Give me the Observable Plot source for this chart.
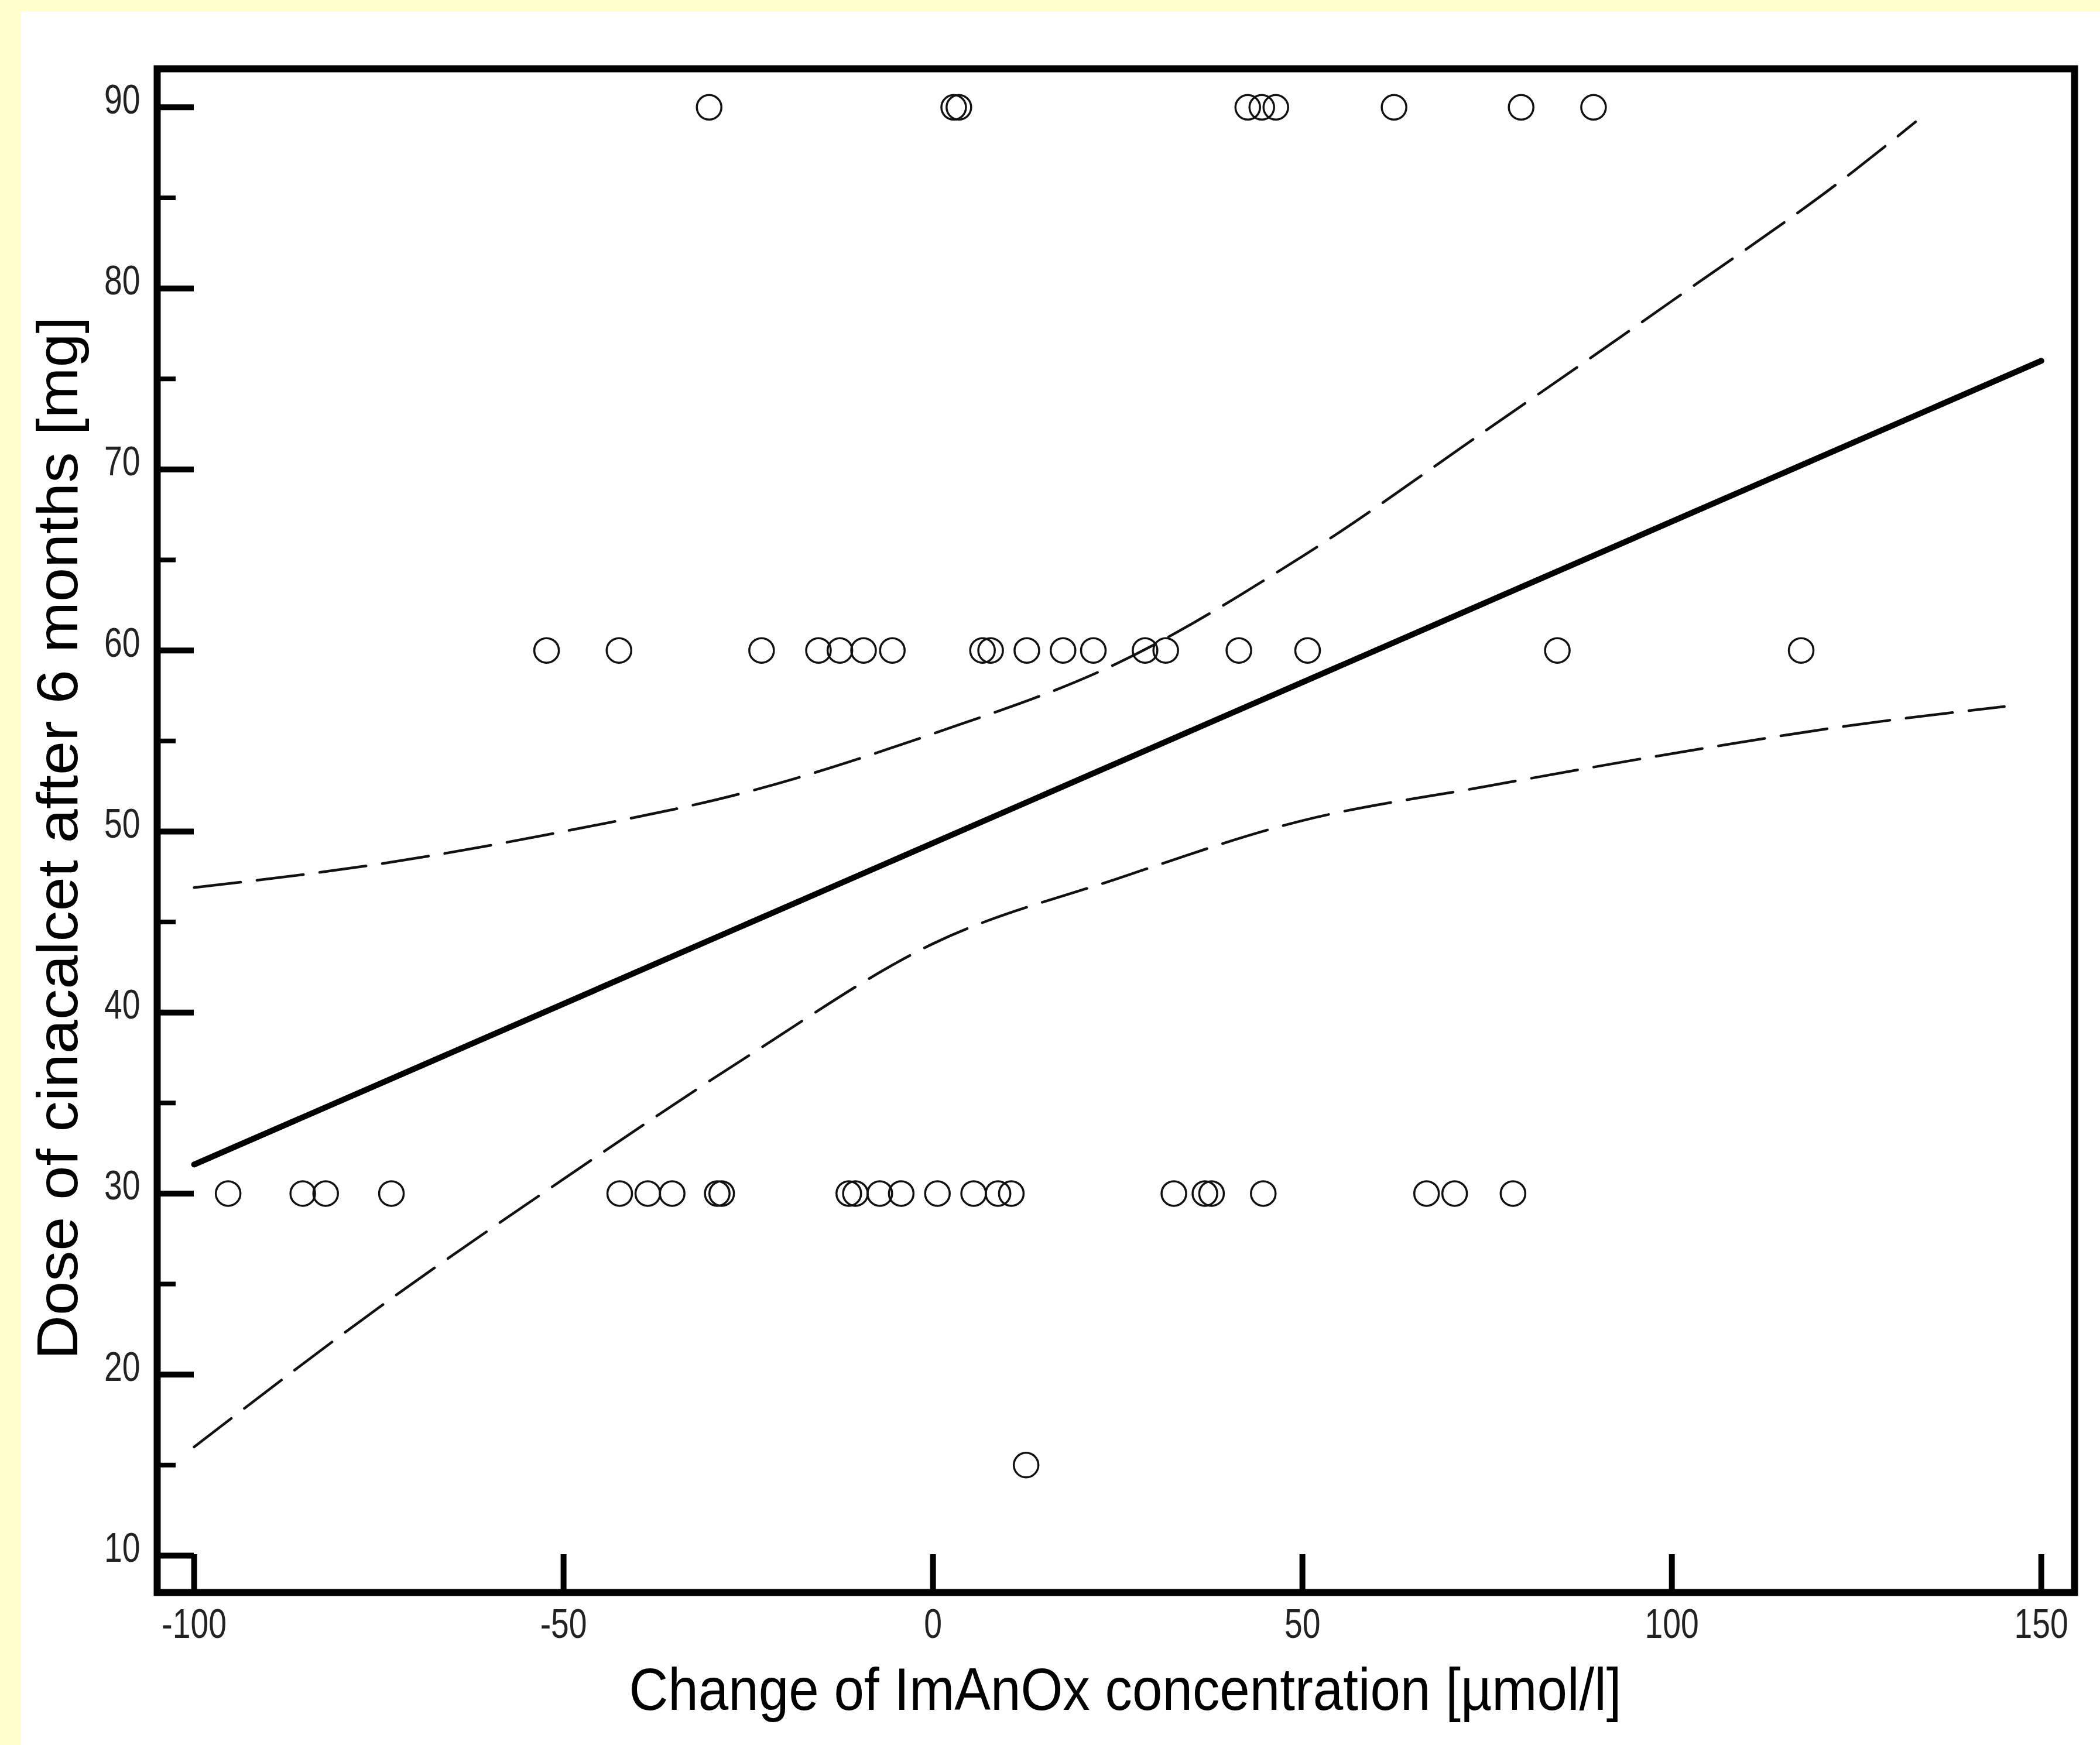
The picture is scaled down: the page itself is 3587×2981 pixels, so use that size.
<!DOCTYPE html>
<html>
<head>
<meta charset="utf-8">
<script src="https://cdn.jsdelivr.net/npm/d3@7"></script>
<script src="https://cdn.jsdelivr.net/npm/@observablehq/plot@0.6"></script>
<style>
html, body { margin: 0; padding: 0; background: #ffffcc; }
#panel { position: absolute; left: 36px; top: 20px; right: 0; bottom: 0; background: #ffffff; }
#chart { position: absolute; left: 0; top: 0; }
</style>
</head>
<body>
<div id="panel"></div>
<div id="chart"></div>
<script>
// ---- data ----
const xTicks = [-100, -50, 0, 50, 100, 150];
const yMajor = [10, 20, 30, 40, 50, 60, 70, 80, 90];
const yMinor = [15, 25, 35, 45, 55, 65, 75, 85];

const xTitle = "Change of ImAnOx concentration [\u00b5mol/l]";
const yTitle = "Dose of cinacalcet after 6 months [mg]";

// x values (change of ImAnOx) for each observed dose level
const dose90X = [-30.3, 2.8, 3.5, 42.6, 44.5, 46.4, 62.4, 79.6, 89.4];
const dose60X = [-52.3, -42.5, -23.2, -15.5, -12.6, -9.4, -5.5, 6.7, 7.8, 12.7, 17.6, 21.7, 28.7, 31.5, 41.4, 50.7, 84.5, 117.5];
const dose30X = [-95.4, -85.3, -82.2, -73.3, -42.4, -38.6, -35.3, -29.2, -28.6, -11.4, -10.5, -7.2, -4.3, 0.6, 5.5, 8.8, 10.6, 32.6, 36.8, 37.7, 44.7, 66.8, 70.6, 78.5];
const dose15X = [12.6];

// regression line end points
const regX = [-100, 150];
const regY = [31.6, 76.0];

// dashed confidence curves
const upperX = [-100, -75, -50, -25, 0, 25, 50, 75, 100, 125, 133];
const upperY = [46.9, 48.2, 50.0, 52.2, 55.4, 59.3, 65.2, 72.2, 79.3, 86.6, 89.2];
const lowerX = [-100, -75, -50, -25, 0, 25, 50, 75, 100, 125, 145];
const lowerY = [16.0, 23.7, 30.8, 37.6, 43.8, 47.4, 50.6, 52.5, 54.3, 55.9, 56.9];

// ---- layout ----
const W = 3587, H = 2981;
const mL = 268, mR = 44, mT = 117, mB = 261;
const xDomain = [-105.0, 154.5];
const yDomain = [7.96, 92.13];
const pxPerX = (W - mL - mR) / (xDomain[1] - xDomain[0]);
const pxPerY = (H - mT - mB) / (yDomain[1] - yDomain[0]);

const points = [
  ...dose90X.map(x => ({x, y: 90})),
  ...dose60X.map(x => ({x, y: 60})),
  ...dose30X.map(x => ({x, y: 30})),
  ...dose15X.map(x => ({x, y: 15}))
];
const reg = regX.map((x, i) => ({x, y: regY[i]}));
const upper = upperX.map((x, i) => ({x, y: upperY[i]}));
const lower = lowerX.map((x, i) => ({x, y: lowerY[i]}));

const font = "'Liberation Sans', Arial, Helvetica, sans-serif";

const chart = Plot.plot({
  width: W,
  height: H,
  marginLeft: mL,
  marginRight: mR,
  marginTop: mT,
  marginBottom: mB,
  x: {domain: xDomain},
  y: {domain: yDomain},
  style: {background: "transparent", fontFamily: font, color: "#000"},
  marks: [
    Plot.ruleX(xTicks, {x: d => d, y1: yDomain[0], y2: yDomain[0] + 65 / pxPerY, stroke: "#000", strokeWidth: 10}),
    Plot.ruleY(yMajor, {y: d => d, x1: xDomain[0], x2: xDomain[0] + 63 / pxPerX, stroke: "#000", strokeWidth: 10}),
    Plot.ruleY(yMinor, {y: d => d, x1: xDomain[0], x2: xDomain[0] + 32 / pxPerX, stroke: "#000", strokeWidth: 8}),
    Plot.axisX({ticks: xTicks, tickSize: 0, tickPadding: 28, tickFormat: d => String(d), fontSize: 70, color: "#222", label: null}),
    Plot.axisY({ticks: yMajor, tickSize: 0, tickPadding: 29, tickFormat: d => String(d), fontSize: 70, color: "#222", label: null, dy: -12}),
    Plot.line(upper, {x: "x", y: "y", curve: "monotone-x", stroke: "#111", strokeWidth: 4.5, strokeDasharray: "80,28"}),
    Plot.line(lower, {x: "x", y: "y", curve: "monotone-x", stroke: "#111", strokeWidth: 4.5, strokeDasharray: "80,28"}),
    Plot.line(reg, {x: "x", y: "y", stroke: "#000", strokeWidth: 10}),
    Plot.dot(points, {x: "x", y: "y", r: 21, stroke: "#111", strokeWidth: 3.5, fill: "none"}),
    Plot.frame({stroke: "#000", strokeWidth: 12}),
    Plot.text([xTitle], {text: d => d, frameAnchor: "bottom", textAnchor: "middle", lineAnchor: "middle", dx: 16, dy: 168, fontSize: 102, fill: "#000", className: "xtitle"}),
    Plot.text([yTitle], {text: d => d, frameAnchor: "left", textAnchor: "middle", lineAnchor: "middle", rotate: -90, dx: -168, dy: 12.5, fontSize: 98, fill: "#000", className: "ytitle"})
  ]
});

document.getElementById("chart").append(chart);

// condensed look of the tick labels
chart.querySelectorAll('g[aria-label="x-axis tick label"] text, g[aria-label="y-axis tick label"] text').forEach(t => {
  const L = t.getComputedTextLength();
  t.setAttribute("textLength", (L * 0.79).toFixed(1));
  t.setAttribute("lengthAdjust", "spacingAndGlyphs");
});
function fitText(sel, len) {
  chart.querySelectorAll(sel).forEach(t => {
    t.setAttribute("textLength", len);
    t.setAttribute("lengthAdjust", "spacingAndGlyphs");
  });
}
fitText(".xtitle text", 1695);
fitText(".ytitle text", 1782);
</script>
</body>
</html>
